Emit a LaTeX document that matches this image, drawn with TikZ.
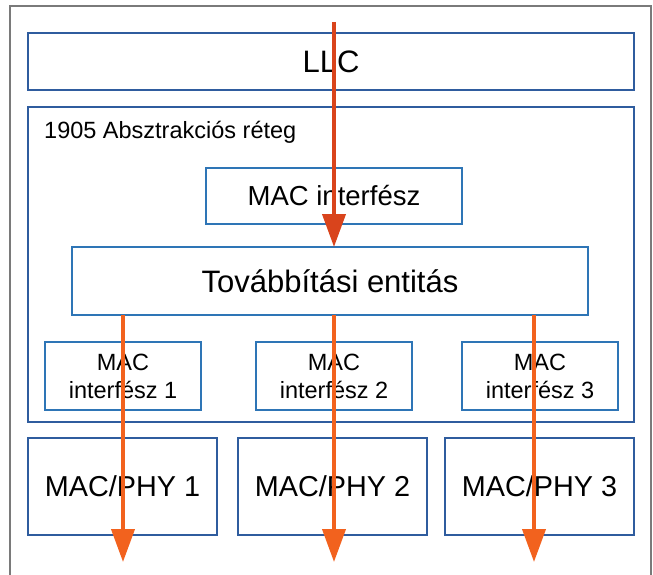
\documentclass[tikz,border=0pt]{standalone}
\usepackage{fontspec}
\setmainfont{Liberation Sans}
\usetikzlibrary{arrows.meta}
\definecolor{darkblue}{HTML}{2F5C9E}
\definecolor{lightblue}{HTML}{2E75B6}
\definecolor{redarrow}{HTML}{D9441C}
\definecolor{orangearrow}{HTML}{F2621E}
\definecolor{framegray}{HTML}{7A7A7A}
\begin{document}
\begin{tikzpicture}[x=1pt,y=-1pt,
    outerbox/.style={rectangle, draw=darkblue, line width=2.2pt, outer sep=0pt, inner sep=0pt},
    innerbox/.style={rectangle, draw=lightblue, line width=1.3pt, outer sep=0pt, inner sep=0pt},
    bigtext/.style={font=\fontsize{31}{36}\selectfont},
    midtext/.style={font=\fontsize{28.8}{32}\selectfont},
    smalltext/.style={font=\fontsize{23.5}{28}\selectfont, align=center},
    flow/.style={line width=4pt, -{Triangle[width=23pt,length=33pt]}}]
    \useasboundingbox (0,0) rectangle (653,575);
    \draw[framegray, line width=1.5pt] (10,575) -- (10,6) -- (651,6) -- (651,575);
    % upper layers
    \node[outerbox, bigtext, minimum width=606pt, minimum height=57pt] (llc) at (331,61.5) {LLC};
    \node[outerbox, minimum width=606pt, minimum height=315pt] (absz) at (331,264.5) {};
    \node[smalltext, anchor=west, inner sep=0pt] (abszlabel) at (44,132) {1905 Absztrakciós réteg};
    \node[innerbox, font=\fontsize{27.5}{32}\selectfont, minimum width=256pt, minimum height=56pt] (macif) at (334,196) {MAC interfész};
    \node[innerbox, bigtext, minimum width=516pt, minimum height=68pt] (tovabb) at (330,281) {Továbbítási entitás};
    % MAC interfaces
    \node[innerbox, smalltext, minimum width=156pt, minimum height=68pt] (macif1) at (123,376) {MAC\\interfész 1};
    \node[innerbox, smalltext, minimum width=156pt, minimum height=68pt] (macif2) at (334,376) {MAC\\interfész 2};
    \node[innerbox, smalltext, minimum width=156pt, minimum height=68pt] (macif3) at (540,376) {MAC\\interfész 3};
    % MAC/PHY layers
    \node[outerbox, midtext, minimum width=189pt, minimum height=97pt] (phy1) at (122.5,486.5) {MAC/PHY 1};
    \node[outerbox, midtext, minimum width=189pt, minimum height=97pt] (phy2) at (332.5,486.5) {MAC/PHY 2};
    \node[outerbox, midtext, minimum width=189pt, minimum height=97pt] (phy3) at (539.5,486.5) {MAC/PHY 3};
    % arrows
    \coordinate (src) at (334,22);
    \coordinate (out1) at (123,562);
    \coordinate (out2) at (334,562);
    \coordinate (out3) at (534,562);
    \draw[flow, redarrow] (src) -- (tovabb.north -| src);
    \draw[flow, orangearrow] (tovabb.south -| out1) -- (out1);
    \draw[flow, orangearrow] (tovabb.south -| out2) -- (out2);
    \draw[flow, orangearrow] (tovabb.south -| out3) -- (out3);
\end{tikzpicture}
\end{document}
